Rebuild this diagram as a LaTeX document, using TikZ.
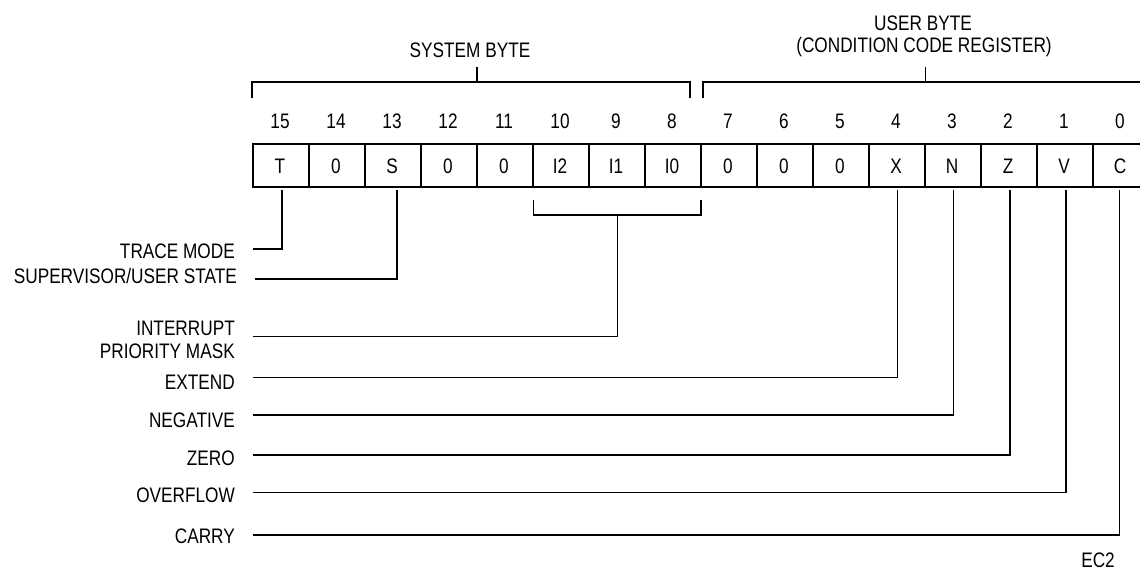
\documentclass[tikz,border=0pt]{standalone}
\usepackage{fontspec}
\setmainfont[FakeStretch=0.82]{Liberation Sans}
\begin{document}
\begin{tikzpicture}[x=1pt,y=-1pt,
  txt/.style={font=\fontsize{21}{25}\selectfont, inner sep=0pt},
  cell/.style={draw, line width=2pt, minimum width=56pt, minimum height=42.7pt, inner sep=0pt, anchor=north west},
  conn/.style={line width=1.3pt},
  brk/.style={line width=1.5pt},
  lbl/.style={txt, anchor=base east}]
\useasboundingbox (0,0) rectangle (1140,570);

% register cells, bit numbers and contents
\foreach \b/\t in {15/T,14/0,13/S,12/0,11/0,10/I2,9/I1,8/I0,7/0,6/0,5/0,4/X,3/N,2/Z,1/V,0/C}{
  \node[cell] (c\b) at ({252+56*(15-\b)},143.3) {};
  \node[txt, anchor=base] (t\b) at ({280+56*(15-\b)},173.5) {\t};
  \node[txt, anchor=base] (n\b) at ({280+56*(15-\b)},128.5) {\b};
}

% titles
\node[txt, anchor=base] (sysb) at (470,57.5) {SYSTEM BYTE};
\node[txt, anchor=base] (userb) at (923,30.5) {USER BYTE};
\node[txt, anchor=base] (ccr) at (924,52) {(CONDITION CODE REGISTER)};

% brackets above
\coordinate (sl) at (252,98);
\coordinate (sr) at (690,98);
\coordinate (st) at (477,67);
\coordinate (sm) at (477,82);
\draw[brk] (sl) |- (sr |- sm) -- (sr);
\draw[brk] (st) -- (sm);
\coordinate (ul) at (703,98);
\coordinate (ur) at (1150,98);
\coordinate (ut) at (925.7,67);
\coordinate (um) at (925.7,82);
\draw[brk] (ul) |- (ur |- um) -- (ur);
\draw[brk] (ut) -- (um);

% labels
\node[lbl] (trace) at (235,258) {TRACE MODE};
\node[lbl] (sup) at (237,283.5) {SUPERVISOR/USER STATE};
\node[lbl] (irqa) at (235,335) {INTERRUPT};
\node[lbl] (irqb) at (235,358) {PRIORITY MASK};
\node[lbl] (ext) at (235,389) {EXTEND};
\node[lbl] (neg) at (235,427) {NEGATIVE};
\node[lbl] (zero) at (235,465) {ZERO};
\node[lbl] (ovf) at (235,502) {OVERFLOW};
\node[lbl] (carry) at (235,543) {CARRY};
\node[txt, anchor=base east] (ec) at (1115,567) {EC2};

% line start coordinates
\coordinate (ltr) at (253,249);
\coordinate (lsu) at (255,279);
\coordinate (lir) at (253,336.7);
\coordinate (lex) at (253,377.5);
\coordinate (lng) at (253,415);
\coordinate (lze) at (253,455);
\coordinate (lov) at (253,492.7);
\coordinate (lca) at (253,535);

% connectors
\draw[conn] ([xshift=1pt,yshift=-2pt]c15.south) |- (ltr);
\draw[conn] ([xshift=4pt,yshift=-2pt]c13.south) |- (lsu);
\draw[brk] ([xshift=1.5pt,yshift=-12pt]c10.south west) -- ++(0,15) -| ([xshift=-1pt,yshift=-12pt]c8.south east);
\coordinate (im) at (617.7,214);
\draw[conn] (im) |- (lir);
\draw[conn] ([xshift=0.7pt,yshift=-2pt]c4.south) |- (lex);
\draw[conn] ([xshift=0.7pt,yshift=-2pt]c3.south) |- (lng);
\draw[conn] ([xshift=1pt,yshift=-2pt]c2.south) |- (lze);
\draw[conn] ([xshift=1pt,yshift=-2pt]c1.south) |- (lov);
\draw[conn] ([xshift=-1.7pt,yshift=-2pt]c0.south) |- (lca);
\end{tikzpicture}
\end{document}
